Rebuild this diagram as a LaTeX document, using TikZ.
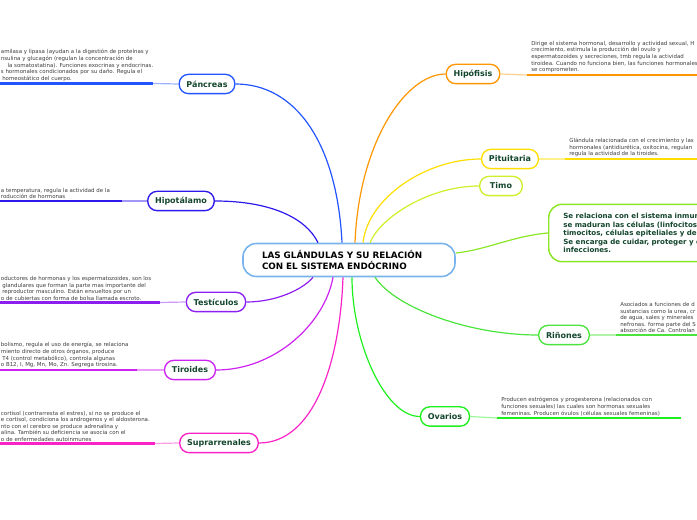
\documentclass[tikz,border=0pt]{standalone}
\usepackage{fontspec}
\setmainfont{DejaVu Sans}
\usetikzlibrary{positioning, calc}

\definecolor{titleC}{RGB}{120,180,235}
\definecolor{nameC}{RGB}{20,70,45}
\definecolor{noteC}{RGB}{60,60,60}
\definecolor{panC}{RGB}{34,85,255}
\definecolor{hypC}{RGB}{45,25,235}
\definecolor{tesC}{RGB}{140,30,240}
\definecolor{tirC}{RGB}{205,35,240}
\definecolor{supC}{RGB}{250,35,200}
\definecolor{hipC}{RGB}{255,150,0}
\definecolor{pitC}{RGB}{255,222,0}
\definecolor{timC}{RGB}{205,240,40}
\definecolor{innC}{RGB}{140,230,40}
\definecolor{rinC}{RGB}{75,228,60}
\definecolor{ovaC}{RGB}{30,240,30}

\begin{document}
\begin{tikzpicture}[
  x=0.75pt, y=-0.75pt,
  font=\bfseries\fontsize{6}{7}\selectfont,
  gland/.style={rectangle, draw, rounded corners=7pt, line width=1pt, fill=white, text=nameC, minimum width=32pt, minimum height=14.5pt, inner xsep=5.5pt},
  note/.style={align=left, inner sep=0pt, text=noteC, font=\mdseries\fontsize{4.1}{4.9}\selectfont},
  link/.style={line width=0.9pt},
  bar/.style={line width=1.6pt}
]
\useasboundingbox (0,0) rectangle (697,520);
\clip (0,0) rectangle (697,520);

%------------------------------------------------
% Central topic
%------------------------------------------------
\node[rectangle, draw=titleC, line width=1.2pt, rounded corners=10pt, fill=white, align=left, text width=130.5pt, inner xsep=14.25pt, minimum height=24.75pt, font=\bfseries\fontsize{6.6}{8.8}\selectfont] (title) at (349,260) {LAS GLÁNDULAS Y SU RELACIÓN\\CON EL SISTEMA ENDÓCRINO};

%------------------------------------------------
% Left branches
%------------------------------------------------
\node[gland, draw=panC] (pan) at (207,84) {Páncreas};
\node[gland, draw=hypC] (hyp) at (181,201) {Hipotálamo};
\node[gland, draw=tesC] (tes) at (216,302) {Testículos};
\node[gland, draw=tirC] (tir) at (190,370) {Tiroides};
\node[gland, draw=supC] (sup) at (219,443) {Suprarrenales};

% Note bars
\coordinate (pan_end) at (0,83.5);  \coordinate (pan_bar) at (153,83.5);
\coordinate (hyp_end) at (0,201);   \coordinate (hyp_bar) at (122,201);
\coordinate (tes_end) at (0,302.5); \coordinate (tes_bar) at (160,302.5);
\coordinate (tir_end) at (0,370);   \coordinate (tir_bar) at (137,370);
\coordinate (sup_end) at (0,443.5); \coordinate (sup_bar) at (155,443.5);

\draw[bar, panC] (pan_end) -- (pan_bar);
\draw[link, panC!45] (pan_bar) -- (pan.west);
\draw[bar, hypC] (hyp_end) -- (hyp_bar);
\draw[link, hypC!45] (hyp_bar) -- (hyp.west);
\draw[bar, tesC] (tes_end) -- (tes_bar);
\draw[link, tesC!45] (tes_bar) -- (tes.west);
\draw[bar, tirC] (tir_end) -- (tir_bar);
\draw[link, tirC!45] (tir_bar) -- (tir.west);
\draw[bar, supC] (sup_end) -- (sup_bar);
\draw[link, supC!45] (sup_bar) -- (sup.west);

% Notes
\node[note, above right=1.5pt and 0.5pt of pan_end] (pan_note) {amilasa y lipasa (ayudan a la digestión de proteínas y\\nsulina y glucagón (regulan la concentración de\\\hspace*{5pt}la somatostatina). Funciones exocrinas y endocrinas.\\s hormonales condicionados por su daño. Regula el\\\hspace*{1pt}homeostático del cuerpo.};
\node[note, above right=1.5pt and 0.5pt of hyp_end] (hyp_note) {a temperatura, regula la actividad de la\\roducción de hormonas};
\node[note, above right=1.5pt and 0.5pt of tes_end] (tes_note) {oductores de hormonas y los espermatozoides, son los\\\hspace*{1pt}glandulares que forman la parte mas importante del\\\hspace*{1pt}reproductor masculino. Están envueltos por un\\o de cubiertas con forma de bolsa llamada escroto.};
\node[note, above right=1.5pt and 0.5pt of tir_end] (tir_note) {bolismo, regula el uso de energía, se relaciona\\miento directo de otros órganos, produce\\\hspace*{1pt}T4 (control metabólico), controla algunas\\o B12, I, Mg, Mn, Mo, Zn. Segrega tirosina.};
\node[note, above right=1.5pt and 0.5pt of sup_end] (sup_note) {cortisol (contrarresta el estres), si no se produce el\\e cortisol, condiciona los androgenos y el aldosterona.\\nto con el cerebro se produce adrenalina y\\alina. También su deficiencia se asocia con el\\o de enfermedades autoinmunes};

%------------------------------------------------
% Right branches
%------------------------------------------------
\node[gland, draw=hipC] (hip) at (473,74) {Hipófisis};
\node[gland, draw=pitC] (pit) at (510,159) {Pituitaria};
\node[gland, draw=timC] (tim) at (501,186) {Timo};
\node[rectangle, draw=innC, line width=1.1pt, rounded corners=10pt, fill=white, text=nameC, anchor=west, align=left, minimum height=43pt, inner xsep=11pt, font=\bfseries\fontsize{5.3}{6.45}\selectfont] (inn) at (548,233) {Se relaciona con el sistema inmun\\se maduran las células (linfocitos)\\timocitos, células epiteliales y den\\Se encarga de cuidar, proteger y c\\infecciones.};
\node[gland, draw=rinC] (rin) at (564,335) {Riñones};
\node[gland, draw=ovaC] (ova) at (445,416.5) {Ovarios};

% Note bars
\coordinate (hip_bar) at (527,75);  \coordinate (hip_end) at (697,75);
\coordinate (pit_bar) at (565,159); \coordinate (pit_end) at (697,159);
\coordinate (rin_bar) at (616,335); \coordinate (rin_end) at (697,335);
\coordinate (ova_bar) at (497,418); \coordinate (ova_end) at (681,418);

\draw[link, hipC!45] (hip.east) -- (hip_bar);
\draw[bar, hipC] (hip_bar) -- (hip_end);
\draw[link, pitC!45] (pit.east) -- (pit_bar);
\draw[bar, pitC] (pit_bar) -- (pit_end);
\draw[link, rinC!45] (rin.east) -- (rin_bar);
\draw[bar, rinC] (rin_bar) -- (rin_end);
\draw[link, ovaC!45] (ova.east) -- (ova_bar);
\draw[bar, ovaC] (ova_bar) -- (ova_end);

% Notes
\node[note, above right=1.5pt and 3pt of hip_bar] (hip_note) {Dirige el sistema hormonal, desarrollo y actividad sexual, H\\crecimiento, estimula la producción del ovulo y\\espermatozoides y secreciones, tmb regula la actividad\\tiroidea. Cuando no funciona bien, las funciones hormonales\\se comprometen.};
\node[note, above right=1.5pt and 3pt of pit_bar] (pit_note) {Glándula relacionada con el crecimiento y las\\hormonales (antidiurética, oxitocina, regulan\\regula la actividad de la tiroides.};
\node[note, above right=1.5pt and 3pt of rin_bar] (rin_note) {Asociados a funciones de d\\sustancias como la urea, cr\\de agua, sales y minerales\\nefronas. forma parte del S\\absorción de Ca. Controlan};
\node[note, above right=1.5pt and 3pt of ova_bar] (ova_note) {Producen estrógenos y progesterona (relacionados con\\funciones sexuales) las cuales son hormonas sexuales\\femeninas. Producen óvulos (células sexuales femeninas)};

%------------------------------------------------
% Curved links to the central topic
%------------------------------------------------
\draw[link, panC] (pan.east) .. controls +(60,0) and +(-5,-100) .. ($(title.north)+(-7,0)$);
\draw[link, hypC] (hyp.east) .. controls +(55,0) and +(-12,-25) .. ($(title.north)+(-31,0)$);
\draw[link, tesC] (tes.east) .. controls +(30,0) and +(-10,12) .. ($(title.south)+(-36,0)$);
\draw[link, tirC] (tir.east) .. controls +(60,0) and +(-8,45) .. ($(title.south)+(-16,0)$);
\draw[link, supC] (sup.east) .. controls +(55,0) and +(-3,85) .. ($(title.south)+(-6,0)$);

\draw[link, hipC] (hip.west) .. controls +(-40,0) and +(4,-100) .. ($(title.north)+(6,0)$);
\draw[link, pitC] (pit.west) .. controls +(-55,0) and +(5,-45) .. ($(title.north)+(14,0)$);
\draw[link, timC] (tim.west) .. controls +(-50,0) and +(10,-25) .. ($(title.north)+(21,0)$);
\draw[link, innC] (inn.west) .. controls +(-35,3) and +(30,-3) .. ($(title.east)+(0,-7)$);
\draw[link, rinC] (rin.west) .. controls +(-70,0) and +(20,30) .. ($(title.south)+(26,0)$);
\draw[link, ovaC] (ova.west) .. controls +(-35,0) and +(0,65) .. ($(title.south)+(3,0)$);

\end{tikzpicture}
\end{document}
